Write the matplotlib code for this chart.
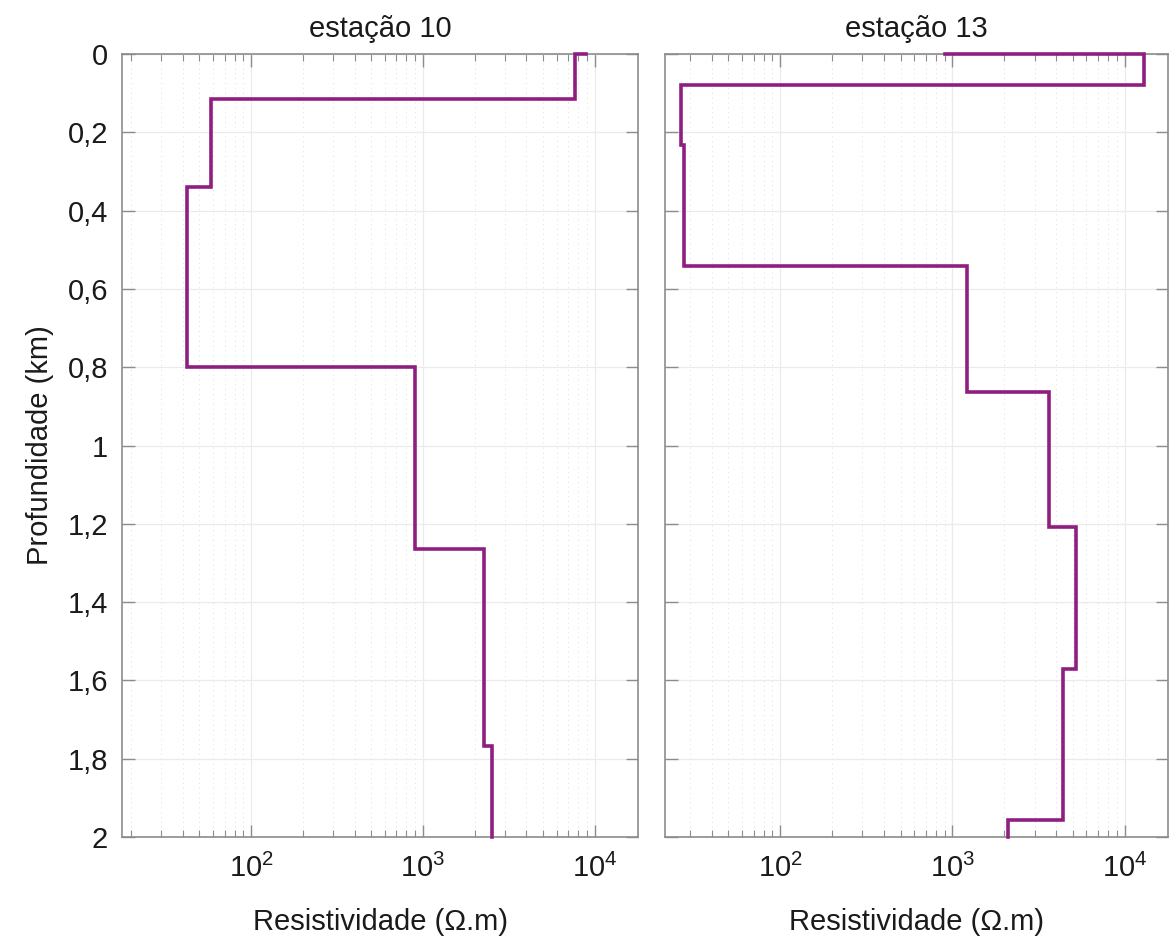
import numpy as np
import matplotlib
matplotlib.use("Agg")
import matplotlib.pyplot as plt
from matplotlib.ticker import LogLocator, FixedLocator, FuncFormatter, NullFormatter

plt.rcParams['font.family'] = ['Liberation Sans', 'DejaVu Sans']
plt.rcParams['mathtext.fontset'] = 'custom'
plt.rcParams['mathtext.rm'] = 'Liberation Sans'
plt.rcParams['mathtext.it'] = 'Liberation Sans'

# estação 10: resistivity of each layer and depth of its bottom (km)
rho_10 = [8870, 7670, 58.4, 42.3, 898, 2280, 2540]
base_10 = [0.0, 0.1146, 0.340, 0.800, 1.264, 1.767, 2.0]

# estação 13
rho_13 = [906, 13000, 26.4, 27.4, 1219, 3620, 5250, 4380, 2090]
base_13 = [0.0, 0.079, 0.232, 0.542, 0.863, 1.208, 1.570, 1.957, 2.0]

titles = ['estação 10', 'estação 13']
y_ticks = [0, 0.2, 0.4, 0.6, 0.8, 1.0, 1.2, 1.4, 1.6, 1.8, 2.0]

line_color = '#8E1F80'
frame_color = '#8c8c8c'
text_color = '#1a1a1a'
fs = 21


def step_profile(rho, base):
    """Vertices of the staircase resistivity-depth curve."""
    xs, ys = [], []
    top = 0.0
    for r, b in zip(rho, base):
        xs += [r, r]
        ys += [top, b]
        top = b
    return np.array(xs), np.array(ys)


def style_axis(ax, xlim, show_ylabels):
    ax.set_xscale('log')
    ax.set_xlim(*xlim)
    ax.set_ylim(2.0, 0.0)
    ax.xaxis.set_major_locator(LogLocator(base=10, numticks=10))
    ax.xaxis.set_minor_locator(LogLocator(base=10, subs=np.arange(2, 10), numticks=20))
    ax.xaxis.set_minor_formatter(NullFormatter())
    ax.yaxis.set_major_locator(FixedLocator(y_ticks))
    ax.yaxis.set_major_formatter(FuncFormatter(
        lambda v, p: ('%g' % round(v, 2)).replace('.', ',')))
    ax.tick_params(which='both', direction='in', top=True, right=True,
                   color=frame_color, labelsize=fs, labelcolor=text_color)
    ax.tick_params(which='major', length=9, width=1.0)
    ax.tick_params(which='minor', length=5, width=0.8)
    ax.tick_params(axis='x', which='major', pad=12)
    ax.tick_params(axis='y', which='major', pad=10)
    if not show_ylabels:
        ax.tick_params(axis='y', labelleft=False)
    for s in ax.spines.values():
        s.set_color(frame_color)
        s.set_linewidth(1.2)
    ax.grid(which='major', axis='both', color='#ebebeb', linewidth=0.9)
    ax.grid(which='minor', axis='x', color='#dddddd', linestyle=(0, (1, 4)), linewidth=0.7)
    ax.set_axisbelow(True)
    ax.set_xlabel('Resistividade (Ω.m)', fontsize=fs, color=text_color, labelpad=18)


fig = plt.figure(figsize=(11.69, 9.38), dpi=100)
ax1 = fig.add_axes([0.1044, 0.1077, 0.4414, 0.8347])
ax2 = fig.add_axes([0.5689, 0.1077, 0.4300, 0.8347])

for ax, rho, base, title, xlim, lab in [
        (ax1, rho_10, base_10, titles[0], (17.7, 1.79e4), True),
        (ax2, rho_13, base_13, titles[1], (21.4, 1.78e4), False)]:
    xs, ys = step_profile(rho, base)
    ax.plot(xs, ys, color=line_color, linewidth=2.6, solid_joinstyle='miter', clip_on=False, zorder=3)
    style_axis(ax, xlim, lab)
    ax.set_title(title, fontsize=fs, color=text_color, pad=12)

ax1.set_ylabel('Profundidade (km)', fontsize=fs, color=text_color, labelpad=10)

fig.savefig('out.png', dpi=100)
